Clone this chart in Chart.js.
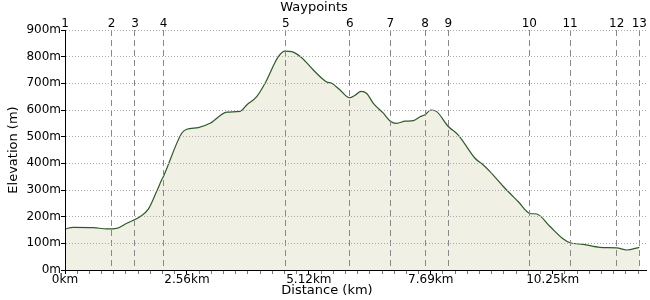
<!DOCTYPE html>
<html>
<head>
<meta charset="utf-8">
<script src="https://cdn.jsdelivr.net/npm/chart.js@4.4.0/dist/chart.umd.min.js"></script>
<style>
  html, body { margin: 0; padding: 0; background: #fff; }
  #wrap { width: 650px; height: 300px; }
</style>
</head>
<body>
<div id="wrap"><canvas id="profileChart"></canvas></div>
<script>
// Elevation profile, values
const distanceKm = [0, 0.174, 0.595, 0.876, 1.087, 1.297, 1.576, 1.751, 1.927, 2.032, 2.066,
    2.453, 2.558, 2.802, 3.048, 3.399, 3.678, 3.819, 4.029, 4.204, 4.483, 4.624, 4.765,
    4.975, 5.219, 5.500, 5.605, 5.780, 5.975, 6.095, 6.221, 6.341, 6.480, 6.690, 6.831,
    6.971, 7.146, 7.320, 7.461, 7.566, 7.686, 7.812, 8.056, 8.266, 8.512, 8.617, 8.792,
    8.932, 9.212, 9.527, 9.773, 9.914, 10.193, 10.473, 10.614, 10.893, 11.244, 11.594,
    11.804, 12.070];
const elevationM = [154, 160, 159, 154, 156, 175, 200, 228, 295, 338, 350,
    513, 528, 534, 550, 592, 595, 619, 650, 700, 800, 821, 819,
    796, 750, 705, 700, 675, 646, 655, 670, 662, 625, 588, 559,
    550, 558, 560, 575, 582, 600, 594, 538, 506, 444, 419, 394,
    369, 313, 256, 212, 210, 163, 116, 102, 96, 85,
    83, 75, 85];

const waypointKm = [0, 0.981, 1.471, 2.074, 4.639, 5.984, 6.837, 7.566, 8.056, 9.758, 10.614, 11.594, 12.070];
const waypointLabels = ['1', '2', '3', '4', '5', '6', '7', '8', '9', '10', '11', '12', '13'];

const distanceTickLabels = ['0km', '2.56km', '5.12km', '7.69km', '10.25km'];
const minorStepKm = 0.25625;   // 10 minor steps per labelled tick
const maxKm = 12.21;
const elevationTicks = [0, 100, 200, 300, 400, 500, 600, 700, 800, 900];

Chart.defaults.font.family = "'DejaVu Sans', Verdana, sans-serif";
Chart.defaults.font.size = 12;
Chart.defaults.color = '#000';

// The horizontal axis titles sit left of the plot centre in the reference,
// so they are drawn here instead of by the scales
const axisTitlePlugin = {
    id: 'axisTitles',
    afterDraw: function(chart) {
        let ctx = chart.ctx;
        ctx.save();
        ctx.fillStyle = '#000';
        ctx.font = "13px 'DejaVu Sans', Verdana, sans-serif";
        ctx.textAlign = 'center';
        ctx.textBaseline = 'middle';
        ctx.fillText('Waypoints', 314, 8);
        ctx.fillText('Distance (km)', 327, 291);
        ctx.restore();
    }
};

let points = distanceKm.map((d, i) => ({ x: d, y: elevationM[i] }));

let profileChart = new Chart(document.getElementById('profileChart').getContext('2d'), {
    type: 'line',
    data: {
        datasets: [{
            data: points,
            borderColor: '#2f5a29',
            borderWidth: 1.2,
            backgroundColor: '#f0f0e4',
            fill: 'origin',
            pointRadius: 0,
            cubicInterpolationMode: 'monotone'
        }]
    },
    plugins: [axisTitlePlugin],
    options: {
        responsive: true,
        maintainAspectRatio: false,
        animation: false,
        layout: { padding: { right: 4 } },
        plugins: {
            legend: { display: false },
            tooltip: { enabled: false }
        },
        scales: {
            x: {
                type: 'linear',
                position: 'bottom',
                min: 0,
                max: maxKm,
                afterBuildTicks: function(scale) {
                    let list = [];
                    for (let i = 0; i * minorStepKm <= maxKm; i++) {
                        list.push({ value: i * minorStepKm });
                    }
                    scale.ticks = list;
                },
                afterFit: function(scale) { scale.height = 30; },
                ticks: {
                    autoSkip: false,
                    maxRotation: 0,
                    padding: 0,
                    font: { size: 12, lineHeight: 1 },
                    callback: function(value, index) {
                        return index % 10 === 0 ? distanceTickLabels[index / 10] : '';
                    }
                },
                grid: {
                    drawOnChartArea: false,
                    tickLength: 4,
                    tickColor: c => c.index % 10 === 0 ? '#000' : '#777'
                },
                border: { color: '#000', z: 1 }
            },
            xTop: {
                type: 'linear',
                axis: 'x',
                position: 'top',
                min: 0,
                max: maxKm,
                afterBuildTicks: function(scale) {
                    scale.ticks = waypointKm.map(v => ({ value: v }));
                },
                afterFit: function(scale) { scale.height = 30; },
                ticks: {
                    autoSkip: false,
                    maxRotation: 0,
                    padding: 0,
                    font: { size: 12, lineHeight: 1 },
                    callback: (value, index) => waypointLabels[index]
                },
                grid: {
                    drawTicks: false,
                    color: c => c.index === 0 ? 'rgba(0,0,0,0)' : '#888',
                    lineWidth: 1,
                    z: 1
                },
                border: { display: false, dash: [6, 4] }
            },
            y: {
                min: 0,
                max: 900,
                afterBuildTicks: function(scale) {
                    scale.ticks = elevationTicks.map(v => ({ value: v }));
                },
                afterFit: function(scale) { scale.width = 65; },
                ticks: {
                    padding: 0,
                    callback: v => v + 'm'
                },
                grid: {
                    color: c => c.tick && c.tick.value === 0 ? 'rgba(0,0,0,0)' : '#aaa',
                    tickColor: '#000',
                    tickLength: 4,
                    tickBorderDash: [],
                    z: 1
                },
                border: { color: '#000', dash: [1, 2], z: 1 },
                title: {
                    display: true,
                    text: 'Elevation (m)',
                    font: { size: 13 },
                    padding: { top: 6, bottom: 0 }
                }
            }
        }
    }
});
</script>
</body>
</html>
